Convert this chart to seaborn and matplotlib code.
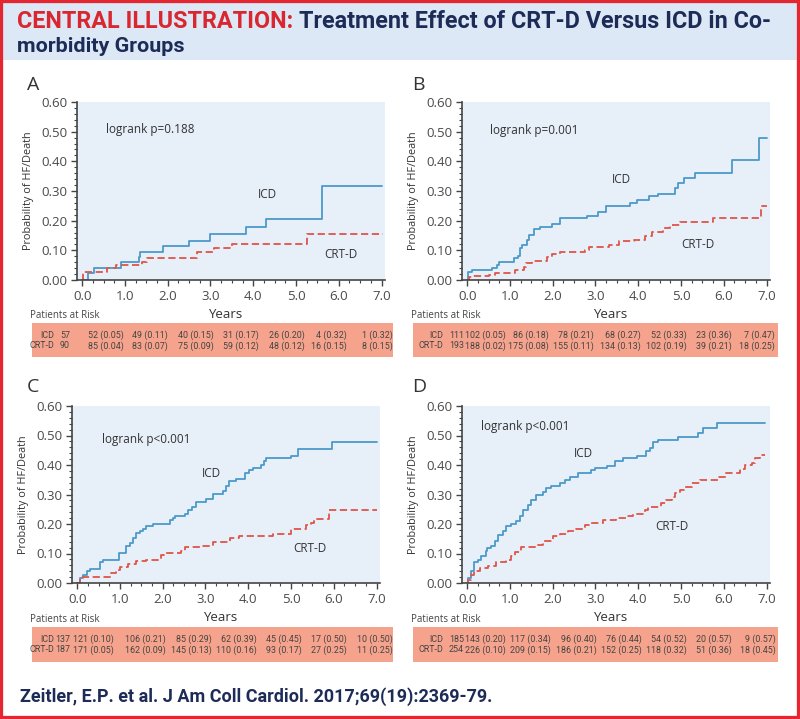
import numpy as np
import matplotlib
matplotlib.use("Agg")
import matplotlib.pyplot as plt
import seaborn as sns
from matplotlib.patches import Rectangle
from matplotlib.ticker import MultipleLocator

# -------------------------------
# Step 1: Curve data (years, cumulative probability)

a_icd_t = [0, 0.13, 0.27, 0.90, 1.33, 1.36, 1.89, 2.49, 3.00, 3.82, 4.29, 5.61, 7.00]
a_icd_p = [0, 0.023, 0.040, 0.062, 0.079, 0.096, 0.113, 0.133, 0.155, 0.178, 0.205, 0.318, 0.318]
a_crt_t = [0, 0.02, 0.58, 0.78, 1.40, 1.52, 2.69, 3.09, 3.50, 5.26, 7.03]
a_crt_p = [0, 0.028, 0.040, 0.050, 0.062, 0.073, 0.096, 0.109, 0.123, 0.156, 0.156]

b_icd_t = [0, 0.01, 0.12, 0.58, 0.70, 0.75, 1.09, 1.18, 1.24, 1.28, 1.40, 1.44, 1.56, 1.71,
           1.98, 2.18, 2.80, 3.07, 3.24, 3.81, 3.97, 4.24, 4.47, 4.86, 4.94, 5.06, 5.33,
           6.18, 6.82, 7.00]
b_icd_p = [0, 0.026, 0.034, 0.040, 0.050, 0.062, 0.073, 0.081, 0.107, 0.118, 0.135, 0.152,
           0.171, 0.180, 0.190, 0.209, 0.217, 0.228, 0.248, 0.259, 0.270, 0.282, 0.291,
           0.310, 0.327, 0.344, 0.361, 0.406, 0.477, 0.477]
b_crt_t = [0, 0.04, 0.12, 0.50, 0.66, 1.13, 1.32, 1.38, 1.52, 1.87, 1.98, 2.18, 2.76, 2.84,
           3.31, 3.54, 3.89, 4.16, 4.33, 4.59, 4.74, 4.98, 5.75, 6.88, 7.00]
b_crt_p = [0, 0.009, 0.014, 0.017, 0.023, 0.034, 0.045, 0.056, 0.064, 0.079, 0.087, 0.094,
           0.101, 0.110, 0.117, 0.130, 0.135, 0.147, 0.163, 0.175, 0.186, 0.194, 0.210,
           0.250, 0.250]

c_icd_t = [0, 0.06, 0.14, 0.23, 0.30, 0.53, 0.60, 0.98, 1.15, 1.23, 1.30, 1.38, 1.46, 1.54,
           1.62, 1.77, 2.16, 2.24, 2.29, 2.51, 2.59, 2.69, 2.78, 3.01, 3.17, 3.40, 3.48,
           3.54, 3.71, 3.93, 4.01, 4.10, 4.30, 4.36, 4.41, 4.99, 5.17, 5.95, 7.00]
c_icd_p = [0, 0.017, 0.028, 0.039, 0.047, 0.070, 0.077, 0.102, 0.124, 0.135, 0.152, 0.169,
           0.177, 0.184, 0.192, 0.200, 0.212, 0.219, 0.226, 0.235, 0.246, 0.259, 0.274,
           0.286, 0.302, 0.313, 0.330, 0.345, 0.353, 0.372, 0.383, 0.389, 0.400, 0.412,
           0.423, 0.432, 0.454, 0.479, 0.479]
c_crt_t = [0, 0.06, 0.80, 0.92, 1.00, 1.19, 1.38, 1.62, 1.95, 2.04, 2.43, 2.51, 2.90, 3.17,
           3.56, 3.58, 3.79, 4.57, 5.01, 5.35, 5.46, 5.54, 5.89, 7.00]
c_crt_p = [0, 0.020, 0.034, 0.045, 0.054, 0.065, 0.073, 0.079, 0.094, 0.102, 0.109, 0.121,
           0.127, 0.138, 0.144, 0.152, 0.160, 0.166, 0.183, 0.197, 0.205, 0.218, 0.248, 0.248]

d_icd_t = [0, 0.02, 0.09, 0.15, 0.25, 0.33, 0.43, 0.46, 0.56, 0.64, 0.72, 0.84, 0.91, 1.03,
           1.15, 1.23, 1.30, 1.42, 1.50, 1.62, 1.77, 1.85, 1.97, 2.16, 2.28, 2.40, 2.59,
           2.90, 2.98, 3.26, 3.45, 3.65, 3.96, 4.18, 4.27, 4.35, 4.47, 4.93, 5.40, 5.52,
           5.83, 6.97]
d_icd_p = [0, 0.017, 0.039, 0.070, 0.079, 0.090, 0.107, 0.118, 0.127, 0.141, 0.164, 0.175,
           0.192, 0.200, 0.209, 0.226, 0.248, 0.265, 0.282, 0.299, 0.307, 0.321, 0.329,
           0.338, 0.350, 0.359, 0.372, 0.383, 0.391, 0.395, 0.415, 0.423, 0.432, 0.446,
           0.457, 0.479, 0.485, 0.496, 0.510, 0.525, 0.544, 0.544]
d_crt_t = [0, 0.02, 0.09, 0.17, 0.29, 0.48, 0.68, 0.91, 1.03, 1.11, 1.26, 1.62, 1.77, 2.01,
           2.16, 2.36, 2.55, 2.75, 2.90, 3.18, 3.49, 3.72, 3.88, 4.15, 4.23, 4.54, 4.66,
           4.78, 4.86, 4.97, 5.09, 5.25, 5.44, 5.87, 6.06, 6.37, 6.49, 6.65, 6.72, 6.85,
           6.97]
d_crt_p = [0, 0.011, 0.028, 0.039, 0.051, 0.059, 0.070, 0.079, 0.090, 0.104, 0.122, 0.130,
           0.144, 0.158, 0.167, 0.175, 0.184, 0.197, 0.205, 0.212, 0.220, 0.226, 0.235,
           0.248, 0.259, 0.271, 0.282, 0.293, 0.305, 0.316, 0.327, 0.338, 0.349, 0.361,
           0.372, 0.387, 0.400, 0.406, 0.423, 0.434, 0.434]

panel_letters = ["A", "B", "C", "D"]
logrank_texts = ["logrank p=0.188", "logrank p=0.001", "logrank p<0.001", "logrank p<0.001"]

# patients at risk tables (first entry is baseline count)
a_risk_icd = ["57", "52 (0.05)", "49 (0.11)", "40 (0.15)", "31 (0.17)", "26 (0.20)", "4 (0.32)", "1 (0.32)"]
a_risk_crt = ["90", "85 (0.04)", "83 (0.07)", "75 (0.09)", "59 (0.12)", "48 (0.12)", "16 (0.15)", "8 (0.15)"]
b_risk_icd = ["111", "102 (0.05)", "86 (0.18)", "78 (0.21)", "68 (0.27)", "52 (0.33)", "23 (0.36)", "7 (0.47)"]
b_risk_crt = ["193", "188 (0.02)", "175 (0.08)", "155 (0.11)", "134 (0.13)", "102 (0.19)", "39 (0.21)", "18 (0.25)"]
c_risk_icd = ["137", "121 (0.10)", "106 (0.21)", "85 (0.29)", "62 (0.39)", "45 (0.45)", "17 (0.50)", "10 (0.50)"]
c_risk_crt = ["187", "171 (0.05)", "162 (0.09)", "145 (0.13)", "110 (0.16)", "93 (0.17)", "27 (0.25)", "11 (0.25)"]
d_risk_icd = ["185", "143 (0.20)", "117 (0.34)", "96 (0.40)", "76 (0.44)", "54 (0.52)", "20 (0.57)", "9 (0.57)"]
d_risk_crt = ["254", "226 (0.10)", "209 (0.15)", "186 (0.21)", "152 (0.25)", "118 (0.32)", "51 (0.36)", "18 (0.45)"]

# -------------------------------
# Step 2: Style
sns.set_style("white")
plt.rcParams['font.family'] = ['Open Sans', 'DejaVu Sans']

W, H = 800, 719
ICD_COL = '#4b9ac9'
CRT_COL = '#e0554a'
BG_COL = '#e7eff8'
TXT = '#4a4a4a'
RISK_BG = '#f5a38c'
NAVY = '#1d2b57'
RED = '#d9262f'
TABLE_FONT = ['Roboto', 'DejaVu Sans']
HEAD_FONT = ['Roboto', 'DejaVu Sans']

fig = plt.figure(figsize=(W / 100, H / 100), dpi=100)
renderer = fig.canvas.get_renderer()


def fx(px):
    return px / W


def fy(py):
    return 1 - py / H


def fit_line(x0, y0, parts, width_px, size=16):
    # lay out coloured pieces on one line, then shrink so the line spans width_px
    texts = [fig.text(0, fy(y0), s, color=c, fontsize=size, fontweight='bold',
                      family=HEAD_FONT, va='center', ha='left') for s, c in parts]
    widths = [t.get_window_extent(renderer).width for t in texts]
    scale = width_px / sum(widths)
    x = x0
    for t, w in zip(texts, widths):
        t.set_fontsize(size * scale)
        t.set_x(fx(x))
        x += w * scale


# header band + frame
fig.patches.append(Rectangle((0, fy(60)), 1, 60 / H, transform=fig.transFigure,
                             facecolor='#dce8f6', edgecolor='none', zorder=0))
fig.patches.append(Rectangle((0, 0), 1, 1, transform=fig.transFigure, fill=False,
                             edgecolor='#e3262f', linewidth=4.5, zorder=10))

fit_line(17, 22, [("CENTRAL ILLUSTRATION: ", RED),
                  ("Treatment Effect of CRT-D Versus ICD in Co-", NAVY)], 756)
fit_line(17, 46, [("morbidity Groups", NAVY)], 168)
fit_line(20, 697, [("Zeitler, E.P. et al. J Am Coll Cardiol. 2017;69(19):2369-79.", NAVY)], 472)

# -------------------------------
# Step 3: Panels
panels = [
    dict(box=(77, 102, 385, 280), icd=(a_icd_t, a_icd_p), crt=(a_crt_t, a_crt_p),
         icd_lab=(4.33, 0.288), crt_lab=(6.04, 0.085), lr=(0.55, 0.508),
         risk=(a_risk_icd, a_risk_crt), rbox=(32, 323, 393, 357), lab_x=54,
         cols=[70, 124, 168, 214, 259, 305, 347, 393], letter_xy=(27, 85)),
    dict(box=(462, 102, 770, 280), icd=(b_icd_t, b_icd_p), crt=(b_crt_t, b_crt_p),
         icd_lab=(3.6, 0.338), crt_lab=(5.4, 0.118), lr=(0.54, 0.505),
         risk=(b_risk_icd, b_risk_crt), rbox=(413, 323, 778, 357), lab_x=443,
         cols=[464, 506, 549, 594, 641, 687, 732, 775], letter_xy=(412, 85)),
    dict(box=(72, 406, 380, 583), icd=(c_icd_t, c_icd_p), crt=(c_crt_t, c_crt_p),
         icd_lab=(3.13, 0.37), crt_lab=(5.45, 0.118), lr=(0.57, 0.485),
         risk=(c_risk_icd, c_risk_crt), rbox=(32, 627, 393, 662), lab_x=54,
         cols=[70, 114, 166, 212, 257, 302, 347, 393], letter_xy=(27, 387)),
    dict(box=(462, 406, 770, 583), icd=(d_icd_t, d_icd_p), crt=(d_crt_t, d_crt_p),
         icd_lab=(2.71, 0.44), crt_lab=(4.78, 0.192), lr=(0.33, 0.532),
         risk=(d_risk_icd, d_risk_crt), rbox=(413, 627, 778, 662), lab_x=443,
         cols=[464, 506, 551, 597, 642, 687, 732, 776], letter_xy=(412, 387)),
]

for i, p in enumerate(panels):
    l, t, r, b = p['box']
    ax = fig.add_axes([fx(l), fy(b), fx(r - l), (b - t) / H])
    ax.set_facecolor(BG_COL)
    sns.lineplot(x=p['icd'][0], y=p['icd'][1], ax=ax, color=ICD_COL, lw=1.3,
                 drawstyle='steps-post', estimator=None)
    sns.lineplot(x=p['crt'][0], y=p['crt'][1], ax=ax, color=CRT_COL, lw=1.3,
                 linestyle=(0, (4, 2)), drawstyle='steps-post', estimator=None)
    ax.set_xlim(-0.12, 7.08)
    ax.set_ylim(0, 0.6)
    ax.set_xticks(np.arange(0, 7.5, 1.0))
    ax.set_xticklabels([f"{v:.1f}" for v in np.arange(0, 7.5, 1.0)])
    ax.set_yticks(np.arange(0, 0.65, 0.1))
    ax.set_yticklabels([f"{v:.2f}" for v in np.arange(0, 0.65, 0.1)])
    ax.xaxis.set_minor_locator(MultipleLocator(0.25))
    ax.yaxis.set_minor_locator(MultipleLocator(0.02))
    ax.tick_params(axis='both', which='major', direction='out', length=4, width=1,
                   color='#444444', labelsize=9.5, labelcolor=TXT, pad=3, bottom=True, left=True)
    ax.tick_params(axis='both', which='minor', direction='out', length=2, width=0.8,
                   color='#444444', bottom=True, left=True)
    for s in ['top', 'right']:
        ax.spines[s].set_visible(False)
    for s in ['left', 'bottom']:
        ax.spines[s].set_color('#444444')
        ax.spines[s].set_linewidth(1.2)
    ax.set_ylabel("Probability of HF/Death", fontsize=7.8, color='#333333')
    ax.yaxis.set_label_coords(-0.14, 0.5)
    ax.set_xlabel("Years", fontsize=9.5, color='#333333')
    ax.xaxis.set_label_coords(0.48, -0.16)
    ax.text(*p['icd_lab'], "ICD", fontsize=8.5, color='#333333', ha='center', va='center')
    ax.text(*p['crt_lab'], "CRT-D", fontsize=8.5, color='#333333', ha='center', va='center')
    ax.text(*p['lr'], logrank_texts[i], fontsize=8.5, color='#333333', ha='left', va='center')

    # panel letter
    lx, ly = p['letter_xy']
    fig.text(fx(lx), fy(ly), panel_letters[i], fontsize=14, color='#333333', va='center', ha='left')

    # patients at risk
    rl, rt, rr, rb = p['rbox']
    fig.text(fx(rl - 2), fy(rt - 8), "Patients at Risk", fontsize=7, color='#444444',
             va='center', ha='left')
    fig.patches.append(Rectangle((fx(rl), fy(rb)), fx(rr - rl), (rb - rt) / H,
                                 transform=fig.transFigure, facecolor=RISK_BG,
                                 edgecolor='none', zorder=1))
    row_y = [rt + 12, rt + 23]
    for lab, row, yy in zip(["ICD", "CRT-D"], p['risk'], row_y):
        fig.text(fx(p['lab_x']), fy(yy), lab, fontsize=6.4, color='#444444', family=TABLE_FONT,
                 ha='right', va='center')
        for cx, val in zip(p['cols'], row):
            fig.text(fx(cx), fy(yy), val, fontsize=6.4, color='#444444', family=TABLE_FONT,
                     ha='right', va='center')

fig.savefig("out.png", dpi=100)
